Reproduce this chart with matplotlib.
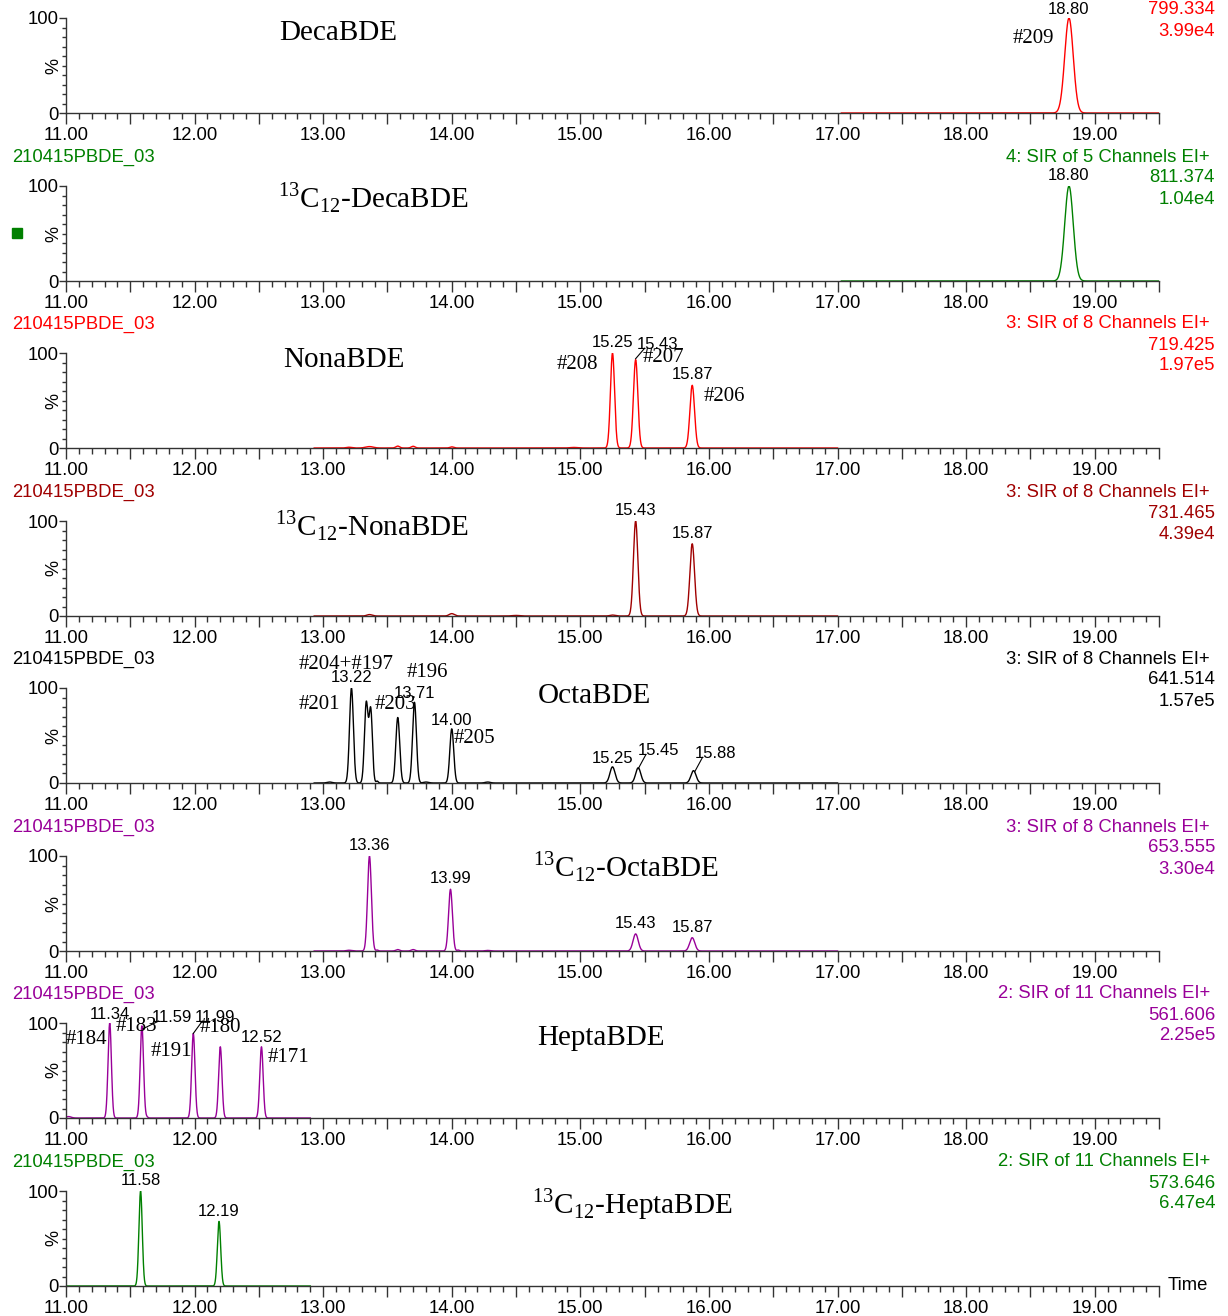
import numpy as np
import matplotlib
matplotlib.use('Agg')
import matplotlib.pyplot as plt
from matplotlib.ticker import MultipleLocator, FuncFormatter
from matplotlib.patches import Rectangle

plt.rcParams['font.family'] = ['Liberation Sans', 'DejaVu Sans']
plt.rcParams['mathtext.fontset'] = 'custom'
plt.rcParams['mathtext.rm'] = 'Liberation Serif'

# ---- data (retention time min, relative %, peak sigma) ----
sample = '210415PBDE_03'

deca_rt = [18.80]
deca_h = [100]
deca_w = [0.033]

c13deca_rt = [18.80]
c13deca_h = [100]
c13deca_w = [0.033]

nona_rt = [13.20, 13.36, 13.58, 13.70, 14.00, 14.95, 15.25, 15.43, 15.87]
nona_h = [0.8, 1.5, 2.0, 1.8, 1.2, 0.6, 100, 93, 66]
nona_w = [0.02, 0.03, 0.015, 0.015, 0.015, 0.03, 0.016, 0.017, 0.018]

c13nona_rt = [13.36, 14.00, 14.50, 15.25, 15.43, 15.87]
c13nona_h = [1.5, 2.5, 0.6, 1.0, 100, 76]
c13nona_w = [0.02, 0.02, 0.03, 0.02, 0.017, 0.018]

octa_rt = [13.05, 13.22, 13.335, 13.37, 13.42, 13.58, 13.71, 13.80, 14.00, 14.28, 15.25, 15.45, 15.88]
octa_h = [1.0, 100, 84, 76, 2.0, 69, 85, 1.0, 57, 1.0, 17, 16, 13]
octa_w = [0.02, 0.015, 0.014, 0.013, 0.008, 0.015, 0.015, 0.02, 0.015, 0.02, 0.02, 0.02, 0.02]

c13octa_rt = [13.20, 13.36, 13.42, 13.58, 13.70, 13.99, 14.05, 14.28, 15.43, 15.87]
c13octa_h = [0.8, 100, 1.0, 1.5, 1.5, 65, 1.0, 0.6, 18, 14]
c13octa_w = [0.02, 0.015, 0.008, 0.015, 0.015, 0.015, 0.008, 0.02, 0.02, 0.02]

hepta_rt = [11.02, 11.34, 11.59, 11.63, 11.99, 12.20, 12.52]
hepta_h = [1.5, 100, 97, 1.0, 89, 75, 75]
hepta_w = [0.02, 0.013, 0.013, 0.008, 0.013, 0.013, 0.013]

c13hepta_rt = [11.58, 12.19]
c13hepta_h = [100, 68]
c13hepta_w = [0.013, 0.013]

# trace ranges (acquisition windows) in minutes
windows = [(17.03, 19.5), (17.03, 19.5), (12.93, 17.0), (12.93, 17.0),
           (12.93, 17.0), (12.93, 17.0), (11.0, 12.9), (11.0, 12.9)]

functions = ['', '4: SIR of 5 Channels EI+', '3: SIR of 8 Channels EI+', '3: SIR of 8 Channels EI+',
             '3: SIR of 8 Channels EI+', '3: SIR of 8 Channels EI+', '2: SIR of 11 Channels EI+',
             '2: SIR of 11 Channels EI+']
masses = ['799.334', '811.374', '719.425', '731.465', '641.514', '653.555', '561.606', '573.646']
intensities = ['3.99e4', '1.04e4', '1.97e5', '4.39e4', '1.57e5', '3.30e4', '2.25e5', '6.47e4']
compounds = ['DecaBDE', r'${}^{\mathrm{13}}$C${}_{\mathrm{12}}$-DecaBDE', 'NonaBDE',
             r'${}^{\mathrm{13}}$C${}_{\mathrm{12}}$-NonaBDE', 'OctaBDE',
             r'${}^{\mathrm{13}}$C${}_{\mathrm{12}}$-OctaBDE', 'HeptaBDE',
             r'${}^{\mathrm{13}}$C${}_{\mathrm{12}}$-HeptaBDE']

colors = ['#ff0000', '#008000', '#ff0000', '#a00000', '#000000', '#990099', '#990099', '#008000']

peaks = [(deca_rt, deca_h, deca_w), (c13deca_rt, c13deca_h, c13deca_w),
         (nona_rt, nona_h, nona_w), (c13nona_rt, c13nona_h, c13nona_w),
         (octa_rt, octa_h, octa_w), (c13octa_rt, c13octa_h, c13octa_w),
         (hepta_rt, hepta_h, hepta_w), (c13hepta_rt, c13hepta_h, c13hepta_w)]

# label positions: (text, x, y, leader line start or None)
rt_labels = [
    [('18.80', 18.80, 101, None)],
    [('18.80', 18.80, 103, None)],
    [('15.25', 15.25, 103, None), ('15.43', 15.60, 101, (15.43, 94)), ('15.87', 15.87, 69, None)],
    [('15.43', 15.43, 103, None), ('15.87', 15.87, 79, None)],
    [('13.22', 13.22, 103, None), ('13.71', 13.71, 86, None), ('14.00', 14.00, 58, None),
     ('15.25', 15.25, 18, None), ('15.45', 15.61, 26, (15.45, 15)), ('15.88', 16.05, 23, (15.89, 12))],
    [('13.36', 13.36, 103, None), ('13.99', 13.99, 68, None), ('15.43', 15.43, 21, None),
     ('15.87', 15.87, 17, None)],
    [('11.34', 11.34, 101, None), ('11.59', 11.82, 98, (11.60, 94)), ('11.99', 12.16, 98, (11.99, 89)),
     ('12.52', 12.52, 77, None)],
    [('11.58', 11.58, 103, None), ('12.19', 12.19, 71, None)],
]
congeners = [
    [('#209', 18.52, 78)],
    [],
    [('#208', 14.98, 88), ('#207', 15.65, 95), ('#206', 16.12, 54)],
    [],
    [('#204+#197', 13.18, 125), ('#201', 12.97, 83), ('#203', 13.56, 83), ('#196', 13.81, 116),
     ('#205', 14.18, 47)],
    [],
    [('#184', 11.16, 83), ('#183', 11.55, 96), ('#191', 11.82, 70), ('#180', 12.20, 95), ('#171', 12.73, 64)],
    [],
]
compound_pos = [(13.12, 84), (13.39, 88), (13.16, 93), (13.38, 95), (15.11, 92), (15.35, 89),
                (15.16, 84), (15.40, 86)]

W, H = 1228, 1316
fig = plt.figure(figsize=(W / 100, H / 100), dpi=100)

tops = [18, 186, 353, 521, 688, 856, 1023, 1191]
ph = 95
axis_col = '#333333'


def fx(px):
    return px / W


def fy(py):
    return 1 - py / H


for i, y0 in enumerate(tops):
    ax = fig.add_axes([fx(66), fy(y0 + ph), (1159 - 66) / W, ph / H])
    col = colors[i]
    lo, hi = windows[i]
    t = np.linspace(lo, hi, 4000)
    rts, hs, ws = peaks[i]
    sig = np.zeros_like(t)
    for rt, h, w in zip(rts, hs, ws):
        sig += h * np.exp(-0.5 * ((t - rt) / w) ** 2)
    ax.plot(t, sig, color=col, lw=1.0, solid_joinstyle='round')

    ax.set_xlim(11.0, 19.5)
    ax.set_ylim(0, 100)
    for s in ['top', 'right']:
        ax.spines[s].set_visible(False)
    for s in ['left', 'bottom']:
        ax.spines[s].set_color(axis_col)
        ax.spines[s].set_linewidth(1.0)
    ax.patch.set_visible(False)

    ax.xaxis.set_major_locator(MultipleLocator(0.5))
    ax.xaxis.set_minor_locator(MultipleLocator(0.1))
    ax.xaxis.set_major_formatter(FuncFormatter(lambda v, p: '%.2f' % v if abs(v - round(v)) < 1e-6 else ''))
    ax.set_yticks([0, 100])
    ax.yaxis.set_minor_locator(MultipleLocator(10))
    ax.tick_params(axis='x', which='major', length=8, width=1, color=axis_col, labelsize=13.3, pad=2)
    ax.tick_params(axis='x', which='minor', length=4.5, width=1, color=axis_col)
    ax.tick_params(axis='y', which='major', length=5, width=1, color=axis_col, labelsize=13.3, pad=0)
    ax.tick_params(axis='y', which='minor', length=3, width=1, color=axis_col)
    ax.text(-0.011, 0.5, '%', transform=ax.transAxes, rotation=90, ha='center', va='center', fontsize=13)

    # compound name
    cx, cy = compound_pos[i]
    ax.text(cx, cy, compounds[i], ha='center', va='center', fontsize=21,
            family=['Liberation Serif', 'DejaVu Serif'], clip_on=False)
    for txt, x, y, lead in rt_labels[i]:
        ax.text(x, y, txt, ha='center', va='bottom', fontsize=12, clip_on=False)
        if lead is not None:
            ax.plot([lead[0], x - 0.1], [lead[1], y + 4], color='black', lw=0.8, clip_on=False)
    for txt, x, y in congeners[i]:
        ax.text(x, y, txt, ha='center', va='center', fontsize=15,
                family=['Liberation Serif', 'DejaVu Serif'], clip_on=False)

    # header lines
    if functions[i]:
        fig.text(fx(12), fy(y0 - 29), sample, color=col, fontsize=13.3, ha='left', va='center')
        fig.text(fx(1210), fy(y0 - 29), functions[i], color=col, fontsize=13.3, ha='right', va='center')
    fig.text(fx(1215), fy(max(y0 - 8, 9)), masses[i], color=col, fontsize=13.3, ha='right', va='center')
    fig.text(fx(1215), fy(y0 + 13), intensities[i], color=col, fontsize=13.3, ha='right', va='center')

fig.text(fx(1168), fy(1286), 'Time', fontsize=13.3, ha='left', va='center')
fig.patches.append(Rectangle((fx(12), fy(238)), 10 / W, 10 / H, transform=fig.transFigure,
                             color='#008000', figure=fig))

fig.savefig('out.png', dpi=100)
